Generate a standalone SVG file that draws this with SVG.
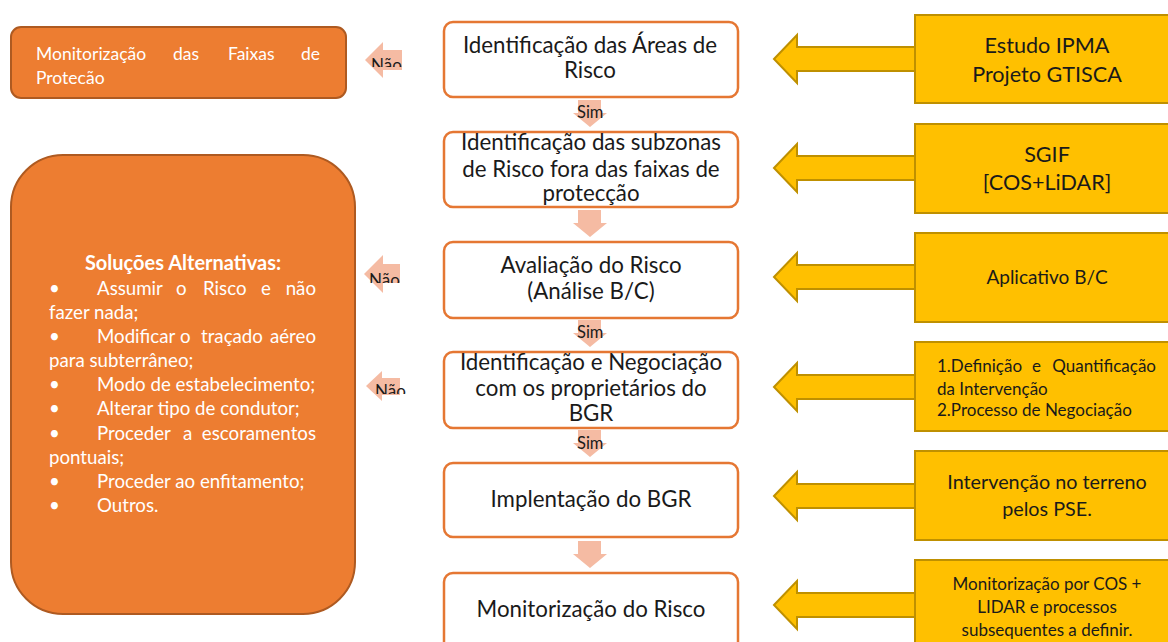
<svg xmlns="http://www.w3.org/2000/svg" width="1168" height="642" viewBox="0 0 1168 642">
<defs>
<style>
.t{font-family:Lato,"Liberation Sans",sans-serif;}
.c{font-size:22.3px;fill:#1a1a1a;text-anchor:middle;}
.y20{font-size:21.6px;fill:#1a1a1a;text-anchor:middle;}
.y18{font-size:19.8px;fill:#1a1a1a;text-anchor:middle;}
.y15{font-size:17px;fill:#1a1a1a;}
.w{font-size:18.7px;fill:#ffffff;}
.s{font-size:16.5px;fill:#1a1a1a;}
.n{font-size:17px;fill:#1a1a1a;}
.box{fill:#ffffff;stroke:#E57733;stroke-width:2.5;}
.ybox{fill:#FFC000;stroke:#BF9000;stroke-width:2;}
.yarr{fill:#FFC000;stroke:#BF9000;stroke-width:2;}
.obox{fill:#ED7D31;stroke:#AE5A21;stroke-width:2;}
.parr{fill:#F5BBA3;}
</style>
<clipPath id="clipL1"><rect x="0" y="0" width="400" height="84"/></clipPath>
<clipPath id="clipN1"><rect x="360" y="0" width="60" height="67"/></clipPath>
<clipPath id="clipN2"><rect x="360" y="0" width="60" height="283"/></clipPath>
<clipPath id="clipN3"><rect x="360" y="0" width="60" height="394"/></clipPath>
</defs>

<g id="connectors">
  <polygon class="parr" points="578,100 601,100 601,113 607,113 590,127 573,113 578,113"/>
  <polygon class="parr" points="578,210 601,210 601,223 607,223 590,237 573,223 578,223"/>
  <polygon class="parr" points="578,320 601,320 601,333 607,333 590,347 573,333 578,333"/>
  <polygon class="parr" points="578,430 601,430 601,443 607,443 590,457 573,443 578,443"/>
  <polygon class="parr" points="578,541 601,541 601,554 607,554 590,568 573,554 578,554"/>
  <text class="t s" x="577" y="118">Sim</text>
  <text class="t s" x="577" y="338">Sim</text>
  <text class="t s" x="577" y="449">Sim</text>
  <polygon class="parr" points="365,60 383,42 383,50 402,50 402,70 383,70 383,78"/>
  <polygon class="parr" points="364,274 383,255 383,264 400,264 400,283 383,283 383,293"/>
  <polygon class="parr" points="366,386 382,371 382,378 400,378 400,395 382,395 382,401"/>
  <g clip-path="url(#clipN1)"><text class="t n" x="371" y="71">Não</text></g>
  <g clip-path="url(#clipN2)"><text class="t n" x="369" y="286">Não</text></g>
  <g clip-path="url(#clipN3)"><text class="t n" x="375" y="397">Não</text></g>
  <polygon class="yarr" points="774,59 797,35 797,47 916,47 916,71 797,71 797,83"/>
  <polygon class="yarr" points="774,168 797,144 797,156 916,156 916,180 797,180 797,192"/>
  <polygon class="yarr" points="774,277 797,253 797,265 916,265 916,289 797,289 797,301"/>
  <polygon class="yarr" points="774,387 797,363 797,375 916,375 916,399 797,399 797,411"/>
  <polygon class="yarr" points="774,496 797,472 797,484 916,484 916,508 797,508 797,520"/>
  <polygon class="yarr" points="774,605 797,581 797,593 916,593 916,617 797,617 797,629"/>
</g>

<g id="n1">
  <rect class="box" x="444" y="22" width="294" height="75" rx="9"/>
  <text class="t c" x="590" y="53">Identificação das Áreas de</text>
  <text class="t c" x="590" y="78">Risco</text>
</g>
<g id="n2">
  <rect class="box" x="444" y="132" width="294" height="75" rx="9"/>
  <text class="t c" x="591" y="150">Identificação das subzonas</text>
  <text class="t c" x="591" y="177">de Risco fora das faixas de</text>
  <text class="t c" x="591" y="201">protecção</text>
</g>
<g id="n3">
  <rect class="box" x="444" y="242" width="294" height="76" rx="9"/>
  <text class="t c" x="591" y="273">Avaliação do Risco</text>
  <text class="t c" x="591" y="299">(Análise B/C)</text>
</g>
<g id="n4">
  <rect class="box" x="444" y="352" width="294" height="76" rx="9"/>
  <text class="t c" x="591" y="370">Identificação e Negociação</text>
  <text class="t c" x="591" y="396">com os proprietários do</text>
  <text class="t c" x="591" y="421">BGR</text>
</g>
<g id="n5">
  <rect class="box" x="444" y="463" width="294" height="74" rx="9"/>
  <text class="t c" x="591" y="507">Implentação do BGR</text>
</g>
<g id="n6">
  <rect class="box" x="444" y="573" width="294" height="80" rx="9"/>
  <text class="t c" x="591" y="617">Monitorização do Risco</text>
</g>

<g id="y1">
  <rect class="ybox" x="915" y="15" width="270" height="88"/>
  <text class="t y20" x="1047" y="53">Estudo IPMA</text>
  <text class="t y20" x="1047" y="82">Projeto GTISCA</text>
</g>
<g id="y2">
  <rect class="ybox" x="915" y="124" width="270" height="89"/>
  <text class="t y20" x="1047" y="162">SGIF</text>
  <text class="t y20" x="1047" y="190">[COS+LiDAR]</text>
</g>
<g id="y3">
  <rect class="ybox" x="915" y="233" width="270" height="89"/>
  <text class="t y18" x="1047" y="284" style="font-size:19px">Aplicativo B/C</text>
</g>
<g id="y4">
  <rect class="ybox" x="915" y="342" width="270" height="89"/>
  <text class="t y15" y="372"><tspan x="937">1.Definição</tspan><tspan x="1032">e</tspan><tspan x="1156" text-anchor="end">Quantificação</tspan></text>
  <text class="t y15" x="937" y="395">da Intervenção</text>
  <text class="t y15" x="937" y="416">2.Processo de Negociação</text>
</g>
<g id="y5">
  <rect class="ybox" x="915" y="451" width="270" height="89"/>
  <text class="t y18" x="1047" y="489">Intervenção no terreno</text>
  <text class="t y18" x="1047" y="516">pelos PSE.</text>
</g>
<g id="y6">
  <rect class="ybox" x="915" y="560" width="270" height="100"/>
  <text class="t y15" x="1047" y="590" text-anchor="middle">Monitorização por COS +</text>
  <text class="t y15" x="1047" y="613" text-anchor="middle">LIDAR e processos</text>
  <text class="t y15" x="1047" y="636" text-anchor="middle">subsequentes a definir.</text>
</g>

<g id="l1">
  <rect class="obox" x="11" y="27" width="335" height="71" rx="10"/>
  <g clip-path="url(#clipL1)">
    <text class="t w" y="60" style="font-size:17.5px"><tspan x="36">Monitorização</tspan><tspan x="173">das</tspan><tspan x="228">Faixas</tspan><tspan x="320" text-anchor="end">de</tspan></text>
    <text class="t w" x="36" y="84" style="font-size:17.5px">Proteção</text>
  </g>
</g>
<g id="l2">
  <rect class="obox" x="11" y="155" width="344" height="459" rx="52"/>
  <text class="t w" x="183" y="270" text-anchor="middle" font-weight="bold" style="font-size:20px">Soluções Alternativas:</text>
  <text class="t w" y="295"><tspan x="49">•</tspan><tspan x="97">Assumir</tspan><tspan x="176">o</tspan><tspan x="203">Risco</tspan><tspan x="261">e</tspan><tspan x="316" text-anchor="end">não</tspan></text>
  <text class="t w" x="49" y="319">fazer nada;</text>
  <text class="t w" y="343"><tspan x="49">•</tspan><tspan x="97">Modificar</tspan><tspan x="180">o</tspan><tspan x="201">traçado</tspan><tspan x="316" text-anchor="end">aéreo</tspan></text>
  <text class="t w" x="49" y="367">para subterrâneo;</text>
  <text class="t w" y="391"><tspan x="49">•</tspan><tspan x="97">Modo de estabelecimento;</tspan></text>
  <text class="t w" y="415"><tspan x="49">•</tspan><tspan x="97">Alterar tipo de condutor;</tspan></text>
  <text class="t w" y="440"><tspan x="49">•</tspan><tspan x="97">Proceder</tspan><tspan x="183">a</tspan><tspan x="316" text-anchor="end">escoramentos</tspan></text>
  <text class="t w" x="49" y="464">pontuais;</text>
  <text class="t w" y="488"><tspan x="49">•</tspan><tspan x="97">Proceder ao enfitamento;</tspan></text>
  <text class="t w" y="512"><tspan x="49">•</tspan><tspan x="97">Outros.</tspan></text>
</g>
</svg>
